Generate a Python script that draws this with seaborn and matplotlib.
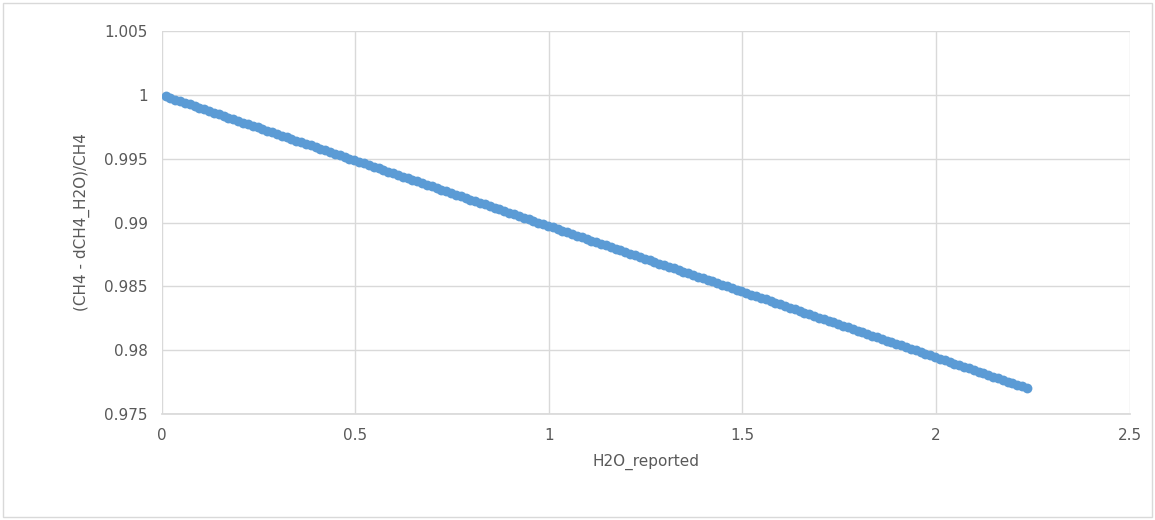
import matplotlib
matplotlib.use("Agg")
import matplotlib.pyplot as plt
import seaborn as sns
import pandas as pd

x_vals = [0.010,0.035,0.060,0.085,0.110,0.135,0.160,0.185,0.210,0.235,
          0.260,0.285,0.310,0.335,0.360,0.385,0.410,0.435,0.460,0.485,
          0.510,0.535,0.560,0.585,0.610,0.635,0.660,0.685,0.710,0.735,
          0.760,0.785,0.810,0.835,0.860,0.885,0.910,0.935,0.960,0.985,
          1.010,1.035,1.060,1.085,1.110,1.135,1.160,1.185,1.210,1.235,
          1.260,1.285,1.310,1.335,1.360,1.385,1.410,1.435,1.460,1.485,
          1.510,1.535,1.560,1.585,1.610,1.635,1.660,1.685,1.710,1.735,
          1.760,1.785,1.810,1.835,1.860,1.885,1.910,1.935,1.960,1.985,
          2.010,2.035,2.060,2.085,2.110,2.135,2.160,2.185,2.210,2.235]
y_vals = [0.99990,0.99964,0.99939,0.99913,0.99887,0.99862,0.99836,0.99810,0.99784,0.99759,
          0.99733,0.99707,0.99682,0.99656,0.99630,0.99605,0.99579,0.99553,0.99527,0.99502,
          0.99476,0.99450,0.99425,0.99399,0.99373,0.99348,0.99322,0.99296,0.99270,0.99245,
          0.99219,0.99193,0.99168,0.99142,0.99116,0.99091,0.99065,0.99039,0.99013,0.98988,
          0.98962,0.98936,0.98911,0.98885,0.98859,0.98834,0.98808,0.98782,0.98756,0.98731,
          0.98705,0.98679,0.98654,0.98628,0.98602,0.98577,0.98551,0.98525,0.98499,0.98474,
          0.98448,0.98422,0.98397,0.98371,0.98345,0.98320,0.98294,0.98268,0.98242,0.98217,
          0.98191,0.98165,0.98140,0.98114,0.98088,0.98063,0.98037,0.98011,0.97985,0.97960,
          0.97934,0.97908,0.97883,0.97857,0.97831,0.97806,0.97780,0.97754,0.97728,0.97703]
x_vals_b = [0.0225,0.0475,0.0725,0.0975,0.1225,0.1475,0.1725,0.1975,0.2225,0.2475,
            0.2725,0.2975,0.3225,0.3475,0.3725,0.3975,0.4225,0.4475,0.4725,0.4975,
            0.5225,0.5475,0.5725,0.5975,0.6225,0.6475,0.6725,0.6975,0.7225,0.7475,
            0.7725,0.7975,0.8225,0.8475,0.8725,0.8975,0.9225,0.9475,0.9725,0.9975,
            1.0225,1.0475,1.0725,1.0975,1.1225,1.1475,1.1725,1.1975,1.2225,1.2475,
            1.2725,1.2975,1.3225,1.3475,1.3725,1.3975,1.4225,1.4475,1.4725,1.4975,
            1.5225,1.5475,1.5725,1.5975,1.6225,1.6475,1.6725,1.6975,1.7225,1.7475,
            1.7725,1.7975,1.8225,1.8475,1.8725,1.8975,1.9225,1.9475,1.9725,1.9975,
            2.0225,2.0475,2.0725,2.0975,2.1225,2.1475,2.1725,2.1975,2.2225]
y_vals_b = [0.99977,0.99951,0.99926,0.99900,0.99874,0.99849,0.99823,0.99797,0.99771,0.99746,
            0.99720,0.99694,0.99669,0.99643,0.99617,0.99592,0.99566,0.99540,0.99514,0.99489,
            0.99463,0.99437,0.99412,0.99386,0.99360,0.99335,0.99309,0.99283,0.99257,0.99232,
            0.99206,0.99180,0.99155,0.99129,0.99103,0.99078,0.99052,0.99026,0.99000,0.98975,
            0.98949,0.98923,0.98898,0.98872,0.98846,0.98821,0.98795,0.98769,0.98743,0.98718,
            0.98692,0.98666,0.98641,0.98615,0.98589,0.98564,0.98538,0.98512,0.98486,0.98461,
            0.98435,0.98409,0.98384,0.98358,0.98332,0.98307,0.98281,0.98255,0.98229,0.98204,
            0.98178,0.98152,0.98127,0.98101,0.98075,0.98050,0.98024,0.97998,0.97972,0.97947,
            0.97921,0.97895,0.97870,0.97844,0.97818,0.97793,0.97767,0.97741,0.97715]
x_ticks = [0, 0.5, 1, 1.5, 2, 2.5]
x_labels = ["0", "0.5", "1", "1.5", "2", "2.5"]
y_ticks = [0.975, 0.98, 0.985, 0.99, 0.995, 1, 1.005]
y_labels = ["0.975", "0.98", "0.985", "0.99", "0.995", "1", "1.005"]

sns.set_theme(style="white")
plt.rcParams['font.family'] = ['DejaVu Sans']
df = pd.DataFrame({"H2O_reported": x_vals + x_vals_b, "ratio": y_vals + y_vals_b})

fig = plt.figure(figsize=(11.55, 5.2), dpi=100)
ax = fig.add_axes([0.14, 0.204, 0.838, 0.736])
sns.scatterplot(data=df, x="H2O_reported", y="ratio", ax=ax, color="#5B9BD5",
                s=50, edgecolor="#5B9BD5", linewidth=0, zorder=3)
ax.set_xlim(0, 2.5)
ax.set_ylim(0.975, 1.005)
ax.set_xticks(x_ticks)
ax.set_xticklabels(x_labels)
ax.set_yticks(y_ticks)
ax.set_yticklabels(y_labels)
ax.grid(True, color="#D9D9D9", linewidth=1)
for s in ["top", "right", "left"]:
    ax.spines[s].set_visible(False)
ax.spines["bottom"].set_color("#D9D9D9")
ax.tick_params(axis="both", colors="#595959", labelsize=11, length=0, pad=10)
ax.set_xlabel("H2O_reported", color="#595959", fontsize=11, labelpad=8)
ax.set_ylabel("(CH4 - dCH4_H2O)/CH4", color="#595959", fontsize=11, labelpad=10)
fig.patches.append(plt.Rectangle((0.003, 0.005), 0.994, 0.99, transform=fig.transFigure,
                                 fill=False, edgecolor="#D9D9D9", linewidth=1))
fig.savefig("out.png", dpi=100)
